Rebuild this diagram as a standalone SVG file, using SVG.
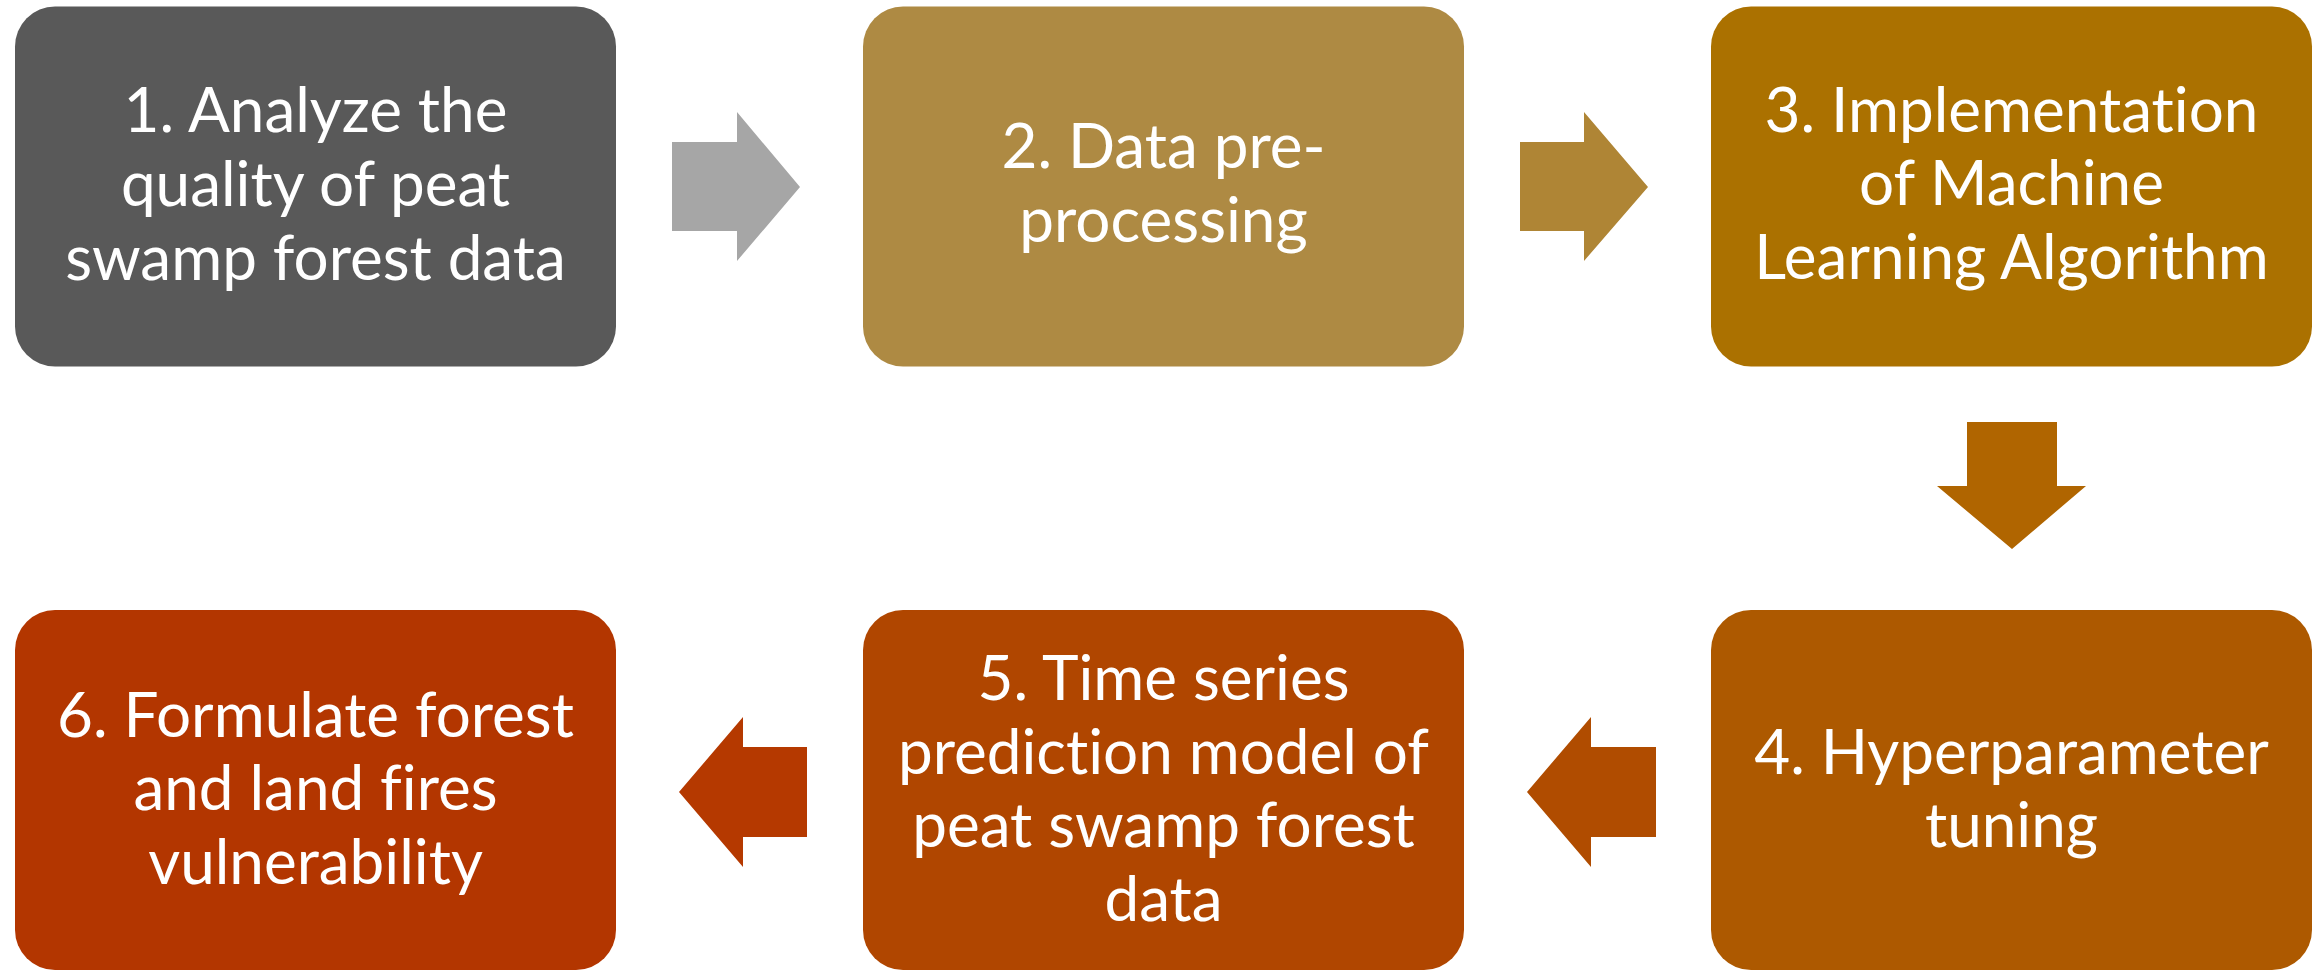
<svg xmlns="http://www.w3.org/2000/svg" width="2323" height="970" viewBox="0 0 2323 970">
<style>
.box{stroke:none}
.lbl{font-family:Lato,"Open Sans","Liberation Sans",sans-serif;font-size:62px;fill:#ffffff;text-anchor:middle;font-variant-ligatures:none;font-feature-settings:"liga" 0,"clig" 0}
</style>
<rect width="2323" height="970" fill="#ffffff"/>
<g id="connectors">
<polygon id="a1" points="672,142 737,142 737,112 800,187 737,261 737,231 672,231" fill="#A6A6A6"/>
<polygon id="a2" points="1520,142 1584,142 1584,112 1648,187 1584,261 1584,231 1520,231" fill="#AF8535"/>
<polygon id="a3" points="1967,422 2057,422 2057,486 2086,486 2012,549 1937,486 1967,486" fill="#B06500"/>
<polygon id="a4" points="1656,747 1591,747 1591,717 1527,792 1591,867 1591,837 1656,837" fill="#B04C00"/>
<polygon id="a5" points="807,747 743,747 743,717 679,792 743,867 743,837 807,837" fill="#B53900"/>
</g>
<g id="n1">
<rect class="box" x="15" y="6.5" width="601" height="360" rx="40" fill="#595959"/>
<text class="lbl"><tspan x="315.5" y="132">1. Analyze the</tspan><tspan x="315.5" y="206">quality of peat</tspan><tspan x="315.5" y="280">swamp forest data</tspan></text>
</g>
<g id="n2">
<rect class="box" x="863" y="6.5" width="601" height="360" rx="40" fill="#AE8A43"/>
<text class="lbl"><tspan x="1163.5" y="168">2. Data pre-</tspan><tspan x="1163.5" y="242">processing</tspan></text>
</g>
<g id="n3">
<rect class="box" x="1711" y="6.5" width="601" height="360" rx="40" fill="#AB7100"/>
<text class="lbl"><tspan x="2011.5" y="132">3. Implementation</tspan><tspan x="2011.5" y="205">of Machine</tspan><tspan x="2011.5" y="279">Learning Algorithm</tspan></text>
</g>
<g id="n4">
<rect class="box" x="1711" y="610" width="601" height="360" rx="40" fill="#AD5900"/>
<text class="lbl"><tspan x="2011.5" y="774">4. Hyperparameter</tspan><tspan x="2011.5" y="847">tuning</tspan></text>
</g>
<g id="n5">
<rect class="box" x="863" y="610" width="601" height="360" rx="40" fill="#B04600"/>
<text class="lbl"><tspan x="1163.5" y="700">5. Time series</tspan><tspan x="1163.5" y="774">prediction model of</tspan><tspan x="1163.5" y="847">peat swamp forest</tspan><tspan x="1163.5" y="921">data</tspan></text>
</g>
<g id="n6">
<rect class="box" x="15" y="610" width="601" height="360" rx="40" fill="#B33600"/>
<text class="lbl"><tspan x="315.5" y="737">6. Formulate forest</tspan><tspan x="315.5" y="810">and land fires</tspan><tspan x="315.5" y="884">vulnerability</tspan></text>
</g>
</svg>
